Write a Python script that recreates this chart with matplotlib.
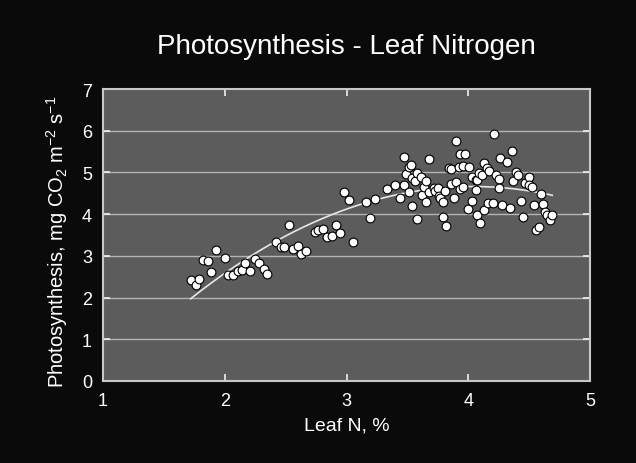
import numpy as np
import matplotlib
matplotlib.use("Agg")
import matplotlib.pyplot as plt

plt.rcParams['font.family'] = ['Liberation Sans', 'DejaVu Sans']
plt.rcParams['mathtext.default'] = 'regular'

leaf_n = [1.72, 1.76, 1.79, 1.82, 1.86, 1.89, 1.93, 2.00, 2.03, 2.07,
          2.11, 2.14, 2.17, 2.21, 2.25, 2.28, 2.32, 2.35, 2.42, 2.46,
          2.49, 2.53, 2.56, 2.60, 2.63, 2.67, 2.74, 2.77, 2.81, 2.84,
          2.88, 2.91, 2.95, 2.98, 3.02, 3.05, 3.16, 3.19, 3.23, 3.33,
          3.40, 3.44, 3.47, 3.47, 3.49, 3.51, 3.53, 3.51, 3.54, 3.54,
          3.56, 3.58, 3.58, 3.61, 3.62, 3.64, 3.65, 3.65, 3.68, 3.68,
          3.72, 3.73, 3.75, 3.76, 3.77, 3.79, 3.79, 3.81, 3.82, 3.84,
          3.86, 3.86, 3.88, 3.90, 3.90, 3.92, 3.93, 3.93, 3.96, 3.97,
          3.96, 4.00, 4.01, 4.03, 4.03, 4.06, 4.06, 4.07, 4.07, 4.09,
          4.10, 4.11, 4.13, 4.13, 4.15, 4.16, 4.17, 4.20, 4.21, 4.23,
          4.25, 4.25, 4.26, 4.28, 4.32, 4.34, 4.36, 4.37, 4.39, 4.41,
          4.43, 4.45, 4.47, 4.50, 4.50, 4.52, 4.54, 4.56, 4.58, 4.60,
          4.61, 4.63, 4.65, 4.67, 4.69]
photo = [2.41, 2.29, 2.44, 2.90, 2.87, 2.61, 3.14, 2.95, 2.55, 2.55,
         2.64, 2.65, 2.84, 2.63, 2.93, 2.84, 2.69, 2.57, 3.34, 3.21,
         3.22, 3.75, 3.17, 3.23, 3.05, 3.12, 3.56, 3.61, 3.65, 3.45,
         3.48, 3.75, 3.55, 4.52, 4.33, 3.34, 4.29, 3.91, 4.36, 4.61,
         4.70, 4.39, 5.38, 4.69, 4.96, 5.12, 5.19, 4.52, 4.19, 4.86,
         4.80, 4.98, 3.89, 4.88, 4.47, 4.64, 4.80, 4.29, 4.52, 5.32,
         4.63, 4.55, 4.63, 4.44, 4.39, 4.29, 3.92, 4.56, 3.72, 5.10,
         5.08, 4.73, 4.38, 5.75, 4.76, 5.14, 4.60, 5.43, 5.16, 5.43,
         4.64, 4.13, 5.12, 4.88, 4.32, 4.81, 4.58, 3.97, 4.81, 4.99,
         3.79, 4.94, 5.22, 4.10, 5.11, 4.26, 5.04, 4.26, 5.92, 4.94,
         4.84, 4.62, 5.34, 4.23, 5.24, 4.15, 5.52, 4.80, 5.00, 4.94,
         4.31, 3.93, 4.75, 4.88, 4.70, 4.64, 4.21, 3.61, 3.68, 4.48,
         4.25, 4.05, 3.97, 3.85, 3.99]
x_ticks = [1, 2, 3, 4, 5]
y_ticks = [0, 1, 2, 3, 4, 5, 6, 7]

title = "Photosynthesis - Leaf Nitrogen"
xlabel = "Leaf N, %"
ylabel = "Photosynthesis, mg CO$_2$ m$^{-2}$ s$^{-1}$"

fig = plt.figure(figsize=(6.36, 4.64), dpi=100, facecolor='#0a0a0a')
ax = fig.add_axes([103/636, 1-382/464, 487/636, 292/464])
ax.set_facecolor('#5c5c5c')

ax.set_xlim(1, 5)
ax.set_ylim(0, 7)
ax.set_xticks(x_ticks)
ax.set_yticks(y_ticks)

for yv in y_ticks[1:-1]:
    ax.axhline(yv, color='#b4b4b4', lw=1.0, zorder=1)

# quadratic trend fitted to the data
coef = np.polyfit(leaf_n, photo, 2)
xs = np.linspace(min(leaf_n), max(leaf_n), 200)
ax.plot(xs, np.polyval(coef, xs), color='#e6e6e6', lw=1.2, zorder=2)

ax.scatter(leaf_n, photo, s=40, facecolor='white', edgecolor='black',
           linewidths=0.8, zorder=3)

for sp in ax.spines.values():
    sp.set_color('#c8c8c8')
    sp.set_linewidth(1.5)

ax.tick_params(axis='both', which='both', direction='in', length=5,
               width=1.2, color='#f0f0f0', labelcolor='white',
               labelsize=13, top=True, right=True)
ax.tick_params(axis='x', pad=8)
ax.tick_params(axis='y', pad=8)

ax.set_xlabel(xlabel, color='white', fontsize=14, labelpad=5)
ax.set_ylabel(ylabel, color='white', fontsize=14.5)
ax.yaxis.set_label_coords(-0.068, 0.48)
fig.text(346/636, 1-47/464, title, color='white', fontsize=20,
         ha='center', va='center')

fig.savefig('out.png', dpi=100, facecolor=fig.get_facecolor())
